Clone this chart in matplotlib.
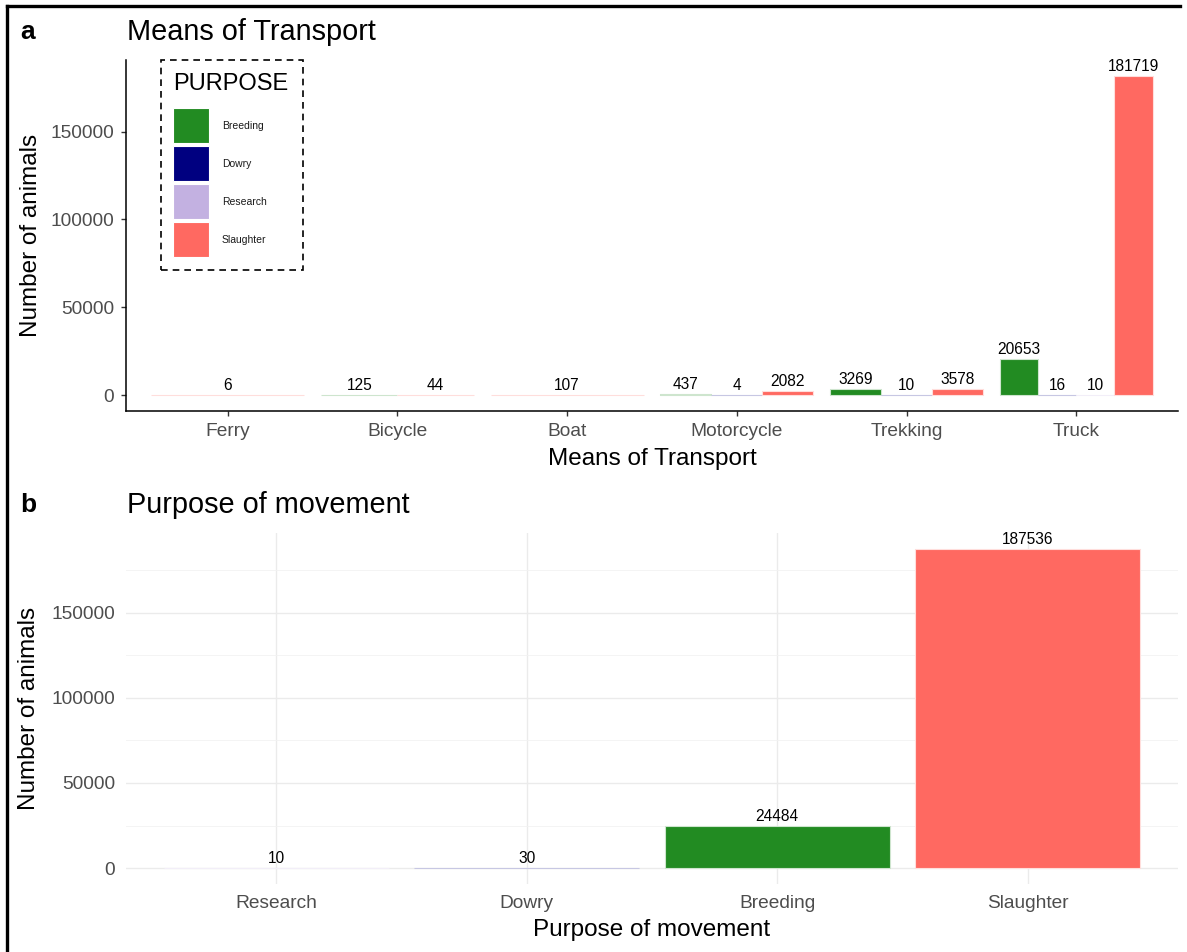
import matplotlib
matplotlib.use("Agg")
import matplotlib.pyplot as plt
from matplotlib.colors import to_rgb
from matplotlib.lines import Line2D
from matplotlib.patches import Rectangle
from matplotlib.ticker import MultipleLocator

plt.rcParams['font.family'] = ['Liberation Sans', 'DejaVu Sans']

# animals moved, by means of transport and purpose (None = no movement)
transport = ["Ferry", "Bicycle", "Boat", "Motorcycle", "Trekking", "Truck"]
breeding = [None, 125, None, 437, 3269, 20653]
dowry = [None, None, None, 4, 10, 16]
research = [None, None, None, None, None, 10]
slaughter = [6, 44, 107, 2082, 3578, 181719]

# totals by purpose
purposes = ["Research", "Dowry", "Breeding", "Slaughter"]
purpose_totals = [10, 30, 24484, 187536]

legend_order = ["Breeding", "Dowry", "Research", "Slaughter"]
colours = {"Breeding": "#228B22", "Dowry": "#000080",
           "Research": "#C3B1E1", "Slaughter": "#FF6961"}
series = {"Breeding": breeding, "Dowry": dowry,
          "Research": research, "Slaughter": slaughter}

W, H = 1187, 952
fig = plt.figure(figsize=(W / 100, H / 100), dpi=100)


def px_axes(left, top, right, bottom):
    return fig.add_axes([left / W, 1 - bottom / H, (right - left) / W, (bottom - top) / H])


def pale(c, amount=0.22):
    r, g, b = to_rgb(c)
    return (1 - amount * (1 - r), 1 - amount * (1 - g), 1 - amount * (1 - b))


def draw_bar(ax, x, v, w, c):
    ax.bar(x, v, width=w, color=c, edgecolor=pale(c), linewidth=0.8, zorder=2)
    ax.annotate(str(v), (x, v), xytext=(0, 1.5), textcoords="offset points",
                ha="center", va="bottom", fontsize=11.2, color="black",
                annotation_clip=False)


tick_grey = "#4D4D4D"

# ---- a: dodged bars per means of transport
ax1 = px_axes(126, 60, 1178, 411)
for i, name in enumerate(transport):
    present = [p for p in legend_order if series[p][i] is not None]
    w = 0.9 / len(present)
    for k, p in enumerate(present):
        draw_bar(ax1, i + 1 - 0.45 + w * (k + 0.5), series[p][i], w, colours[p])

ax1.set_xlim(0.4, len(transport) + 0.6)
ax1.set_ylim(-181719 * 0.05, 181719 * 1.05)
ax1.set_xticks(range(1, len(transport) + 1))
ax1.set_xticklabels(transport)
ax1.yaxis.set_major_locator(MultipleLocator(50000))
for s in ["top", "right"]:
    ax1.spines[s].set_visible(False)
for s in ["left", "bottom"]:
    ax1.spines[s].set_linewidth(1.1)
    ax1.spines[s].set_color("black")
ax1.tick_params(axis="both", labelsize=13.8, labelcolor=tick_grey, color="#333333",
                length=3.5, width=1.0, pad=5)
ax1.set_xlabel("Means of Transport", fontsize=17.5, labelpad=6)
ax1.set_ylabel("Number of animals", fontsize=17.5, labelpad=6)

# legend box with dashed border
fig.add_artist(Rectangle((161 / W, 1 - 270 / H), 142 / W, 210 / H, fill=False,
                         edgecolor="black", linewidth=1.2, linestyle=(0, (4, 3)),
                         transform=fig.transFigure))
fig.text(173 / W, 1 - 84 / H, "PURPOSE", fontsize=17, va="center")
for k, p in enumerate(legend_order):
    top = 108 + 38 * k
    fig.add_artist(Rectangle((173 / W, 1 - (top + 35) / H), 36 / W, 35 / H,
                             facecolor=colours[p], edgecolor="white", linewidth=0.8,
                             transform=fig.transFigure))
    fig.text(222 / W, 1 - (top + 18) / H, p, fontsize=7.5, va="center", color="#1A1A1A")

# ---- b: totals per purpose
ax2 = px_axes(126, 533, 1178, 884)
xs = range(1, len(purposes) + 1)
for x, p, v in zip(xs, purposes, purpose_totals):
    draw_bar(ax2, x, v, 0.9, colours[p])
ax2.set_xlim(0.4, len(purposes) + 0.6)
ax2.set_ylim(-187536 * 0.05, 187536 * 1.05)
ax2.set_xticks(list(xs))
ax2.set_xticklabels(purposes)
ax2.yaxis.set_major_locator(MultipleLocator(50000))
ax2.yaxis.set_minor_locator(MultipleLocator(25000))
ax2.set_axisbelow(True)
ax2.grid(which="major", color="#EBEBEB", linewidth=1.0)
ax2.grid(which="minor", axis="y", color="#F2F2F2", linewidth=0.6)
for s in ax2.spines.values():
    s.set_visible(False)
ax2.tick_params(axis="both", which="both", length=0, labelsize=13.8,
                labelcolor=tick_grey, pad=8)
ax2.set_xlabel("Purpose of movement", fontsize=17.5, labelpad=5)
ax2.set_ylabel("Number of animals", fontsize=17.5, labelpad=8)

# panel letters and titles
fig.text(20 / W, 1 - 32 / H, "a", fontsize=19, fontweight="bold", va="center")
fig.text(127 / W, 1 - 32 / H, "Means of Transport", fontsize=20.8, va="center")
fig.text(20 / W, 1 - 505 / H, "b", fontsize=19, fontweight="bold", va="center")
fig.text(127 / W, 1 - 505 / H, "Purpose of movement", fontsize=20.8, va="center")

# outer frame (top and left edges)
fig.add_artist(Line2D([7 / W, 7 / W], [0, 1 - 6 / H], color="black", linewidth=2.4,
                      transform=fig.transFigure))
fig.add_artist(Line2D([7 / W, 1180 / W], [1 - 6 / H, 1 - 6 / H], color="black",
                      linewidth=2.4, transform=fig.transFigure))

fig.savefig("out.png", dpi=100)
